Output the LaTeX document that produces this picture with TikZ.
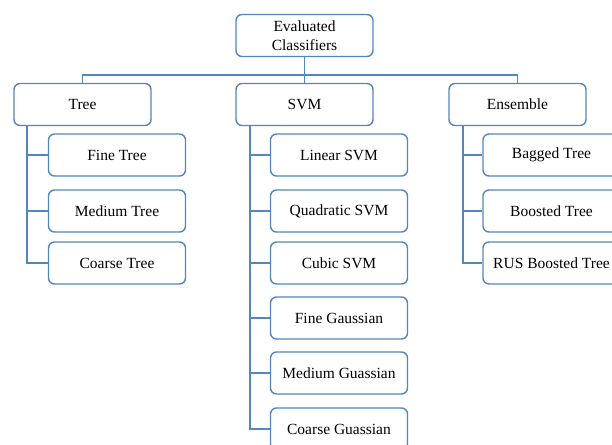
\documentclass[tikz,border=0pt]{standalone}
\usepackage{fontspec}
\setmainfont{Liberation Serif}
\definecolor{boxblue}{RGB}{82,134,192}

\begin{document}
\begin{tikzpicture}[x=1pt,y=-1pt,
    box/.style={draw=boxblue, line width=1.4pt, rounded corners=6pt, fill=white,
      minimum width=137pt, minimum height=42pt, inner sep=1pt, align=center,
      font=\fontsize{15.5}{18.5}\selectfont},
    link/.style={draw=boxblue, line width=1.4pt}]
    \useasboundingbox (0,0) rectangle (612,444);
    \clip (0,0) rectangle (612,444);

    % top and first level
    \node[box] (root) at (304.5,35.5) {Evaluated\\Classifiers};
    \node[box] (tree) at (82.5,104.5) {Tree};
    \node[box] (svm) at (304.5,104.5) {SVM};
    \node[box] (ens) at (517.5,104.5) {Ensemble};

    \coordinate (bus) at (304.5,75);
    \draw[link] (root) -- (svm);
    \draw[link] (tree.north) |- (bus) -| (ens.north);

    % leaves
    \foreach \name/\y/\txt in {t1/155/Fine Tree, t2/211/Medium Tree, t3/263/Coarse Tree} {
        \node[box] (\name) at (117,\y) {\txt};
      }
    \foreach \name/\y/\txt in {s1/155/Linear SVM, s2/211/Quadratic SVM, s3/263/Cubic SVM,
        s4/318/Fine Gaussian, s5/373/Medium Guassian, s6/429/Coarse Guassian} {
        \node[box] (\name) at (339,\y) {\txt};
      }
    \foreach \name/\y/\txt in {e1/155/Bagged Tree, e2/211/Boosted Tree, e3/263/RUS Boosted Tree} {
        \node[box] (\name) at (551.5,\y) {\txt};
      }

    % branch lines
    \coordinate (tbar) at (27,125.5);
    \coordinate (sbar) at (250,125.5);
    \coordinate (ebar) at (463,125.5);
    \draw[link] (tbar) |- (t3.west);
    \draw[link] (sbar) |- (s6.west);
    \draw[link] (ebar) |- (e3.west);
    \foreach \c in {t1,t2} \draw[link] (\c.west) -- (\c.west -| tbar);
    \foreach \c in {s1,s2,s3,s4,s5} \draw[link] (\c.west) -- (\c.west -| sbar);
    \foreach \c in {e1,e2} \draw[link] (\c.west) -- (\c.west -| ebar);
\end{tikzpicture}
\end{document}
